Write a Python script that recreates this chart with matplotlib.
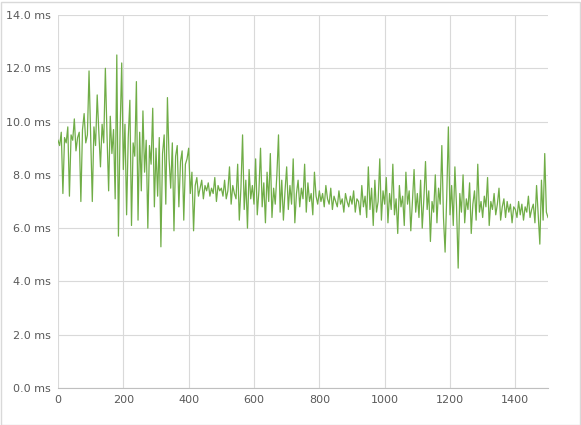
import matplotlib
matplotlib.use("Agg")
import matplotlib.pyplot as plt
from matplotlib.ticker import FuncFormatter, MultipleLocator

GREEN = "#70ad47"
GRID = "#d9d9d9"

# frame times, one sample every 5 frames
frame_step = 5
frame_ms = [
    # 0-95
    9.3, 9.1, 9.6, 7.3, 9.4, 9.2, 9.8, 7.2, 9.5, 9.3, 10.1, 8.9, 9.4, 9.6, 7.0, 9.7, 10.3, 9.2, 9.5, 11.9,
    # 100-195
    9.4, 7.0, 9.8, 9.1, 11.0, 9.6, 8.3, 9.9, 9.2, 12.0, 9.5, 7.4, 10.2, 8.8, 9.7, 7.1, 12.5, 5.7, 9.6, 12.2,
    # 200-295
    8.2, 9.9, 6.5, 9.4, 10.8, 6.1, 9.2, 8.7, 11.5, 6.3, 9.6, 7.4, 10.4, 8.1, 9.3, 6.0, 9.1, 8.4, 10.5, 6.8,
    # 300-395
    9.0, 7.2, 9.4, 5.3, 8.8, 9.5, 6.9, 10.9, 8.6, 7.5, 9.2, 5.9, 8.7, 9.1, 6.8, 8.5, 8.9, 6.3, 8.4, 8.6,
    # 400-495
    9.0, 7.3, 8.1, 5.9, 7.6, 7.9, 7.2, 7.5, 7.8, 7.1, 7.6, 7.4, 7.7, 7.2, 7.5, 7.3, 7.9, 7.0, 7.6, 7.4,
    # 500-595
    7.5, 7.2, 7.8, 7.1, 7.4, 8.3, 6.9, 7.6, 7.3, 7.1, 8.4, 6.3, 7.5, 9.5, 6.7, 7.8, 6.0, 8.2, 7.1, 7.6,
    # 600-695
    6.9, 8.6, 6.5, 7.4, 9.0, 6.8, 7.7, 6.2, 8.1, 7.0, 8.8, 6.4, 7.5, 6.9, 8.0, 9.5, 6.6, 7.8, 6.3, 7.4,
    # 700-795
    8.3, 6.7, 7.6, 6.9, 8.6, 6.2, 7.3, 7.8, 6.8, 7.5, 7.1, 8.4, 6.6, 7.7, 7.0, 7.3, 6.5, 8.1, 7.2, 6.9,
    # 800-895
    7.4, 7.0, 7.3, 6.8, 7.6, 7.1, 6.9, 7.5, 6.7, 7.2, 7.0, 6.8, 7.4, 6.9, 7.1, 6.6, 7.3, 7.0, 6.8, 7.2,
    # 900-995
    6.9, 7.4, 6.6, 7.1, 7.0, 6.5, 7.6, 6.8, 7.2, 6.4, 8.3, 6.7, 7.5, 6.1, 7.8, 6.6, 7.0, 8.6, 6.3, 7.4,
    # 1000-1095
    6.9, 7.9, 6.2, 7.3, 6.7, 8.4, 6.5, 7.1, 5.8, 7.6, 6.8, 7.2, 6.1, 8.1, 6.9, 7.4, 5.9, 7.0, 8.2, 6.6,
    # 1100-1195
    7.3, 6.4, 7.8, 6.0, 7.1, 8.5, 6.7, 7.4, 5.5, 7.0, 6.6, 8.0, 6.2, 7.5, 6.9, 9.1, 6.4, 5.1, 7.2, 9.8,
    # 1200-1295
    6.5, 7.6, 6.1, 8.3, 6.8, 4.5, 7.3, 6.6, 8.0, 6.2, 7.1, 6.7, 7.7, 5.8, 6.9, 7.4, 6.3, 8.4, 6.6, 7.0,
    # 1300-1395
    6.4, 7.2, 6.8, 7.9, 6.1, 7.0, 6.7, 7.3, 6.5, 6.9, 7.5, 6.3, 6.8, 7.1, 6.4, 7.0, 6.6, 6.9, 6.2, 6.8,
    # 1400-1495
    6.7, 6.4, 7.0, 6.5, 6.9, 6.3, 6.8, 6.6, 7.2, 6.4, 6.7, 6.9, 6.2, 7.6, 6.5, 5.4, 7.8, 6.3, 8.8, 6.6,
    # 1500
    6.4,
]
frames = [i * frame_step for i in range(len(frame_ms))]

fig = plt.figure(figsize=(5.81, 4.25), dpi=100)
ax = fig.add_axes([58 / 581, 37 / 425, 490 / 581, 373 / 425])
ax.plot(frames, frame_ms, color=GREEN, lw=0.9)

ax.set_xlim(0, 1500)
ax.set_ylim(0, 14)
ax.xaxis.set_major_locator(MultipleLocator(200))
ax.yaxis.set_major_locator(MultipleLocator(2))
ax.yaxis.set_major_formatter(FuncFormatter(lambda v, _: f"{v:.1f} ms"))
ax.grid(True, color=GRID, lw=0.8)
ax.set_axisbelow(True)
for side in ("top", "right", "left"):
    ax.spines[side].set_visible(False)
ax.spines["bottom"].set_color("#bfbfbf")
ax.tick_params(length=0, labelsize=8, colors="#595959", pad=5)

fig.patches.append(plt.Rectangle((0.5 / 581, 0.5 / 425), 579 / 581, 423 / 425,
                                 transform=fig.transFigure, fill=False,
                                 edgecolor="#d9d9d9", lw=1))
fig.savefig("out.png", dpi=100)
